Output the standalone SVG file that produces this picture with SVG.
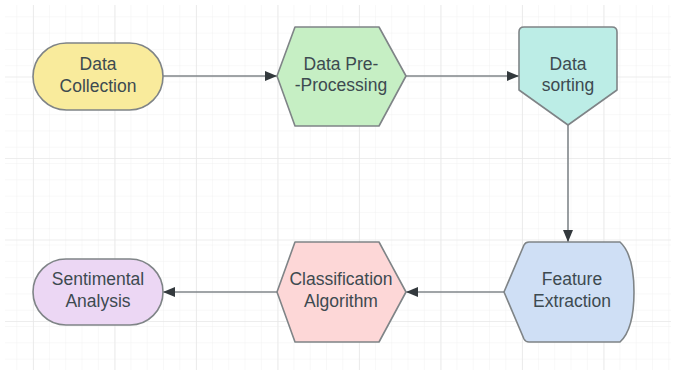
<svg xmlns="http://www.w3.org/2000/svg" width="676" height="375" viewBox="0 0 676 375">
  <defs>
    <pattern id="minor" x="1" y="1" width="16.3" height="16.3" patternUnits="userSpaceOnUse">
      <path d="M16.3 0 V16.3 M0 16.3 H16.3" fill="none" stroke="#f1f1f1" stroke-width="1"/>
    </pattern>
    <pattern id="major" x="33" y="-5" width="81.5" height="81.5" patternUnits="userSpaceOnUse">
      <path d="M0 0 V81.5 M0 0 H81.5" fill="none" stroke="#e7e7e7" stroke-width="1.5"/>
    </pattern>
    <marker id="arrow" viewBox="0 0 12 10" refX="12" refY="5" markerWidth="12" markerHeight="10" markerUnits="userSpaceOnUse" orient="auto">
      <path d="M0 0 L12 5 L0 10 Z" fill="#33393d"/>
    </marker>
  </defs>
  <style>
    .node { stroke: #7f8487; stroke-width: 1.6; stroke-linejoin: round; }
    .lbl { font-family: "Liberation Sans", Arial, sans-serif; font-size: 17.5px; fill: #3d4a50; text-anchor: middle; }
    .edge { stroke: #80868a; stroke-width: 1.6; fill: none; }
  </style>
  <rect width="676" height="375" fill="#ffffff"/>
  <rect x="5" y="5" width="666" height="365" fill="url(#minor)"/>
  <rect x="5" y="5" width="666" height="365" fill="url(#major)"/>

  <g id="connectors">
    <line class="edge" x1="163" y1="76" x2="277" y2="76" marker-end="url(#arrow)"/>
    <line class="edge" x1="406" y1="76" x2="519" y2="76" marker-end="url(#arrow)"/>
    <line class="edge" x1="568" y1="125" x2="568" y2="242" marker-end="url(#arrow)"/>
    <line class="edge" x1="504" y1="292" x2="406" y2="292" marker-end="url(#arrow)"/>
    <line class="edge" x1="277" y1="292" x2="163" y2="292" marker-end="url(#arrow)"/>
  </g>

  <g id="data-collection">
    <rect class="node" x="33" y="43" width="130" height="67" rx="33.5" fill="#f9eb9c"/>
    <text class="lbl" x="98" y="70">Data</text>
    <text class="lbl" x="98" y="92">Collection</text>
  </g>

  <g id="data-preprocessing">
    <polygon class="node" points="277,76 295,27 379,27 406,76 379,126 295,126" fill="#c6efc4"/>
    <text class="lbl" x="341" y="70">Data Pre-</text>
    <text class="lbl" x="341" y="91">-Processing</text>
  </g>

  <g id="data-sorting">
    <path class="node" d="M524,27 H612 Q617,27 617,32 V90 L568,125 L519,90 V32 Q519,27 524,27 Z" fill="#bcede6"/>
    <text class="lbl" x="568" y="70">Data</text>
    <text class="lbl" x="568" y="91">sorting</text>
  </g>

  <g id="feature-extraction">
    <path class="node" d="M504,292 L524,245 Q525.5,242 529,242 H620 C631,252 634,272 634,292 C634,312 631,332 620,342 H529 Q525.5,342 524,339 Z" fill="#cfdff5"/>
    <text class="lbl" x="572" y="285">Feature</text>
    <text class="lbl" x="572" y="307">Extraction</text>
  </g>

  <g id="classification-algorithm">
    <polygon class="node" points="277,292 295,242 379,242 406,292 379,342 295,342" fill="#fdd7d7"/>
    <text class="lbl" x="341" y="285">Classification</text>
    <text class="lbl" x="341" y="307">Algorithm</text>
  </g>

  <g id="sentimental-analysis">
    <rect class="node" x="33" y="259" width="130" height="66" rx="33" fill="#ecd7f4"/>
    <text class="lbl" x="98" y="285">Sentimental</text>
    <text class="lbl" x="98" y="307">Analysis</text>
  </g>
</svg>
